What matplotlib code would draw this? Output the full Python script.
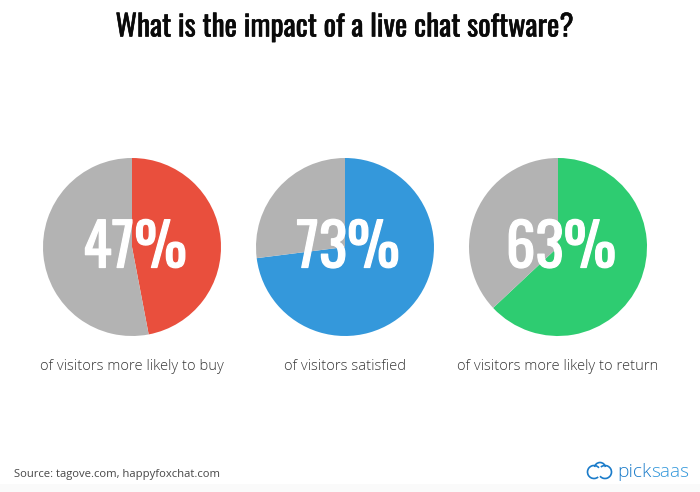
import matplotlib
matplotlib.use("Agg")
import matplotlib.pyplot as plt
import matplotlib.patheffects as pe
from matplotlib.patches import Arc, Rectangle

W, H = 700, 492

title = "What is the impact of a live chat software?"
source = "Source: tagove.com, happyfoxchat.com"
captions = ["of visitors more likely to buy", "of visitors satisfied", "of visitors more likely to return"]
percents = [47, 73, 63]
colors = ["#E94F3D", "#3498DB", "#2ECC71"]
rest_color = "#B3B3B3"
centers_x = [132, 345, 558]
center_y = 247
radius = 89

fig = plt.figure(figsize=(W / 100, H / 100), dpi=100, facecolor="white")

# full-figure axes in pixel coords for the text and logo
bg = fig.add_axes([0, 0, 1, 1])
bg.set_xlim(0, W)
bg.set_ylim(H, 0)
bg.axis("off")
bg.set_zorder(5)
bg.patch.set_alpha(0)
bg.add_patch(Rectangle((0, 484), W, 8, color="#FAFAFA", lw=0))

heading = ["Oswald", "Liberation Sans", "DejaVu Sans"]


def thicken(width, color):
    return [pe.withStroke(linewidth=width, foreground=color)]


for i in range(3):
    ax = fig.add_axes([(centers_x[i] - radius) / W, 1 - (center_y + radius) / H,
                       2 * radius / W, 2 * radius / H])
    ax.pie([percents[i], 100 - percents[i]], colors=[colors[i], rest_color],
           startangle=90, counterclock=False, radius=1)
    ax.set_xlim(-1, 1)
    ax.set_ylim(-1, 1)
    bg.text(centers_x[i] + 3, 249, str(percents[i]) + "%", color="white", fontsize=42.5,
            family=heading, ha="center", va="center", path_effects=thicken(0.9, "white"))
    bg.text(centers_x[i], 366, captions[i], color="#383838", fontsize=10.6,
            family="Open Sans", fontweight="light", ha="center", va="center")

bg.text(344, 27, title, color="#0A0A0A", fontsize=21.2, family=heading, ha="center", va="center",
        path_effects=thicken(0.4, "#0A0A0A"))
bg.text(14, 475, source, color="#484848", fontsize=8.1, family="Open Sans", ha="left", va="center")

# logo
logo_dark = "#1A7BC9"
logo_light = "#3498DB"
bg.text(617, 472, "pick", color=logo_dark, fontsize=13.8, family="Open Sans", fontweight="light",
        ha="left", va="center")
bg.text(651, 472, "saas", color=logo_light, fontsize=13.8, family="Open Sans", fontweight="light",
        ha="left", va="center")
bg.add_patch(Arc((594, 472), 13, 13, theta1=50, theta2=320, color=logo_dark, lw=1.2))
bg.add_patch(Arc((605, 472), 13, 13, theta1=-130, theta2=140, color=logo_dark, lw=1.2))
bg.add_patch(Arc((600, 468), 11, 11, theta1=190, theta2=350, color=logo_dark, lw=1.2))

fig.savefig("out.png", dpi=100)
